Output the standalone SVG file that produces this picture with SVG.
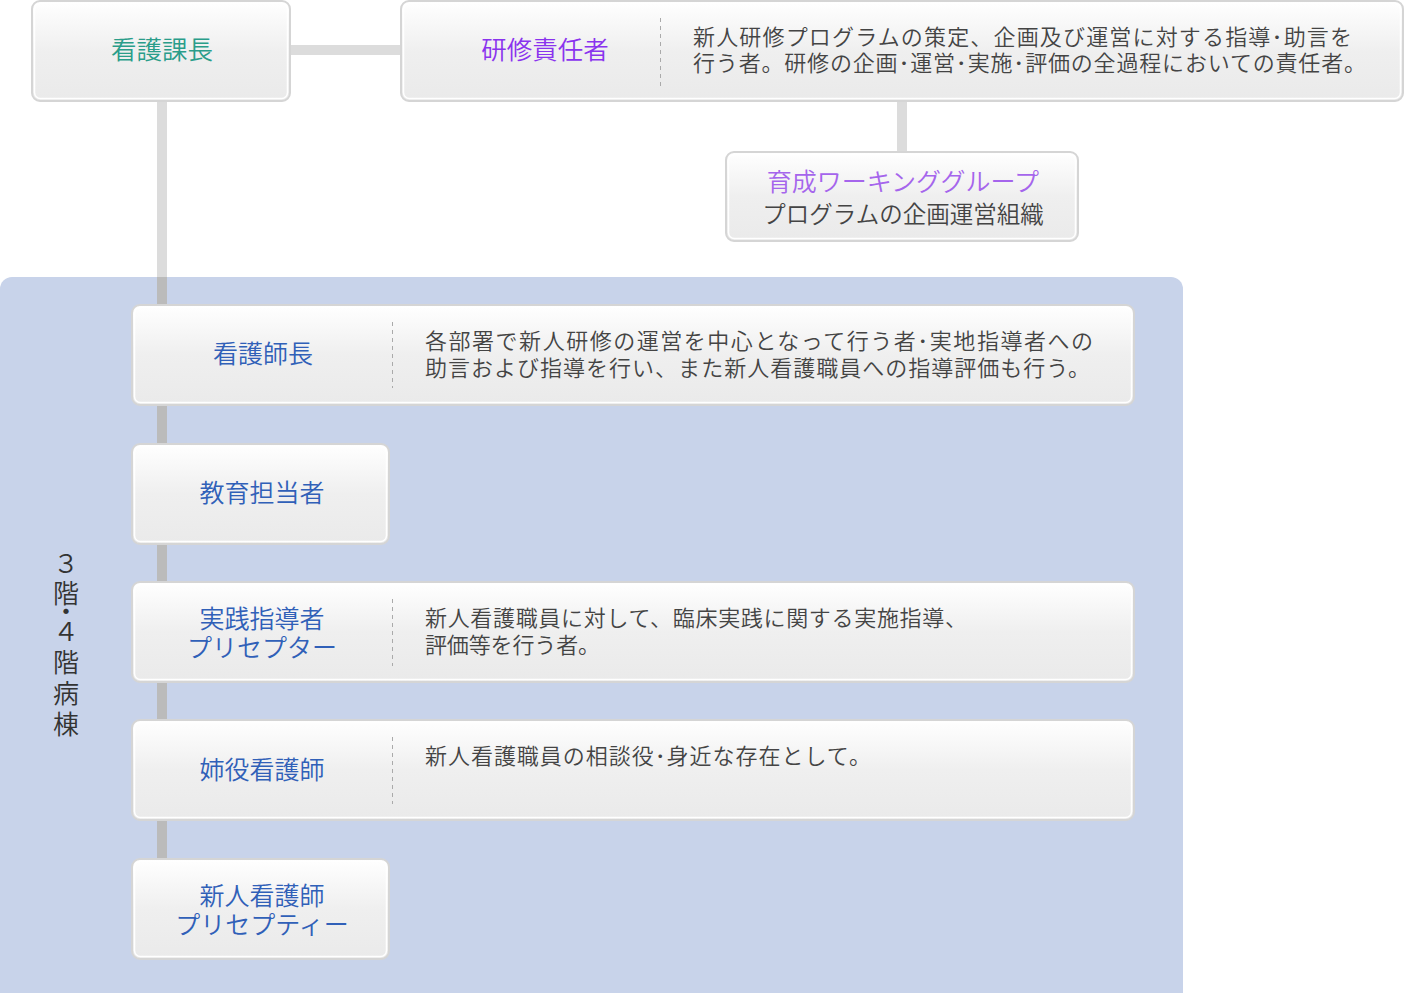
<svg xmlns="http://www.w3.org/2000/svg" width="1404" height="993" viewBox="0 0 1404 993">
<defs>
<linearGradient id="g" x1="0" y1="0" x2="0" y2="1">
<stop offset="0" stop-color="#ffffff"/>
<stop offset="0.5" stop-color="#efefef"/>
<stop offset="1" stop-color="#eaeaea"/>
</linearGradient>
</defs>
<style>
.box{fill:url(#g);stroke:#d5d5d5;stroke-width:2}
.hl{fill:none;stroke:#ffffff;stroke-width:1.5}
.sep{stroke:#aaaaaa;stroke-width:1;stroke-dasharray:4,4}
text{font-family:"Noto Sans CJK JP","Noto Sans",sans-serif;font-weight:350}
.lbl{font-size:25px;text-anchor:middle;fill:#3060b8}
.desc{font-size:22px;fill:#444444}
.side{font-size:26px;text-anchor:middle;fill:#333333}
</style>
<rect x="0" y="277" width="1183" height="730" rx="12" fill="#c8d3ea"/>
<g id="connectors">
<rect x="290" y="45" width="110" height="10" fill="#dcdcdc"/>
<rect x="157" y="102" width="10" height="175" fill="#dcdcdc"/>
<rect x="157" y="277" width="10" height="581" fill="#bbbbbb"/>
<rect x="897" y="102" width="10" height="49" fill="#dcdcdc"/>
</g>
<g id="kangokacho">
<rect class="box" x="32" y="1" width="258" height="100" rx="8"/>
<rect class="hl" x="34.5" y="3.5" width="253" height="95" rx="6"/>
<text x="162" y="59" font-size="25.5" text-anchor="middle" fill="#2a9d8a">看護課長</text>
</g>
<g id="kenshu">
<rect class="box" x="401" y="1" width="1002" height="100" rx="8"/>
<rect class="hl" x="403.5" y="3.5" width="997" height="95" rx="6"/>
<line class="sep" x1="660.5" y1="18" x2="660.5" y2="86"/>
<text x="545" y="59" font-size="25.5" text-anchor="middle" fill="#8a33ee">研修責任者</text>
<text class="desc" x="693" y="45" textLength="659" lengthAdjust="spacing">新人研修プログラムの策定、企画及び運営に対する指導･助言を</text>
<text class="desc" x="693" y="71" textLength="673" lengthAdjust="spacing">行う者。研修の企画･運営･実施･評価の全過程においての責任者。</text>
</g>
<g id="ikusei">
<rect class="box" x="726" y="152" width="352" height="89" rx="8"/>
<rect class="hl" x="728.5" y="154.5" width="347" height="84" rx="6"/>
<text x="903" y="191" font-size="25" text-anchor="middle" fill="#a565ec">育成ワーキンググループ</text>
<text x="903" y="223" font-size="23.5" text-anchor="middle" fill="#444444">プログラムの企画運営組織</text>
</g>
<g id="floor-label">
<text class="side"><tspan x="66" y="573">３</tspan><tspan x="66" y="603">階</tspan><tspan x="66" y="621">・</tspan><tspan x="66" y="641">４</tspan><tspan x="66" y="672">階</tspan><tspan x="66" y="703">病</tspan><tspan x="66" y="734">棟</tspan></text>
</g>
<g id="kangoshicho">
<rect class="box" x="132" y="305" width="1002" height="100" rx="8"/>
<rect class="hl" x="134.5" y="307.5" width="997" height="95" rx="6"/>
<line class="sep" x1="392.5" y1="322" x2="392.5" y2="388"/>
<text class="lbl" x="263" y="363">看護師長</text>
<text class="desc" x="425" y="349" textLength="668" lengthAdjust="spacing">各部署で新人研修の運営を中心となって行う者･実地指導者への</text>
<text class="desc" x="425" y="376" textLength="665" lengthAdjust="spacing">助言および指導を行い、また新人看護職員への指導評価も行う。</text>
</g>
<g id="kyoiku">
<rect class="box" x="132" y="444" width="257" height="100" rx="8"/>
<rect class="hl" x="134.5" y="446.5" width="252" height="95" rx="6"/>
<text class="lbl" x="262" y="502">教育担当者</text>
</g>
<g id="jissen">
<rect class="box" x="132" y="582" width="1002" height="100" rx="8"/>
<rect class="hl" x="134.5" y="584.5" width="997" height="95" rx="6"/>
<line class="sep" x1="392.5" y1="599" x2="392.5" y2="666"/>
<text class="lbl" x="262" y="628">実践指導者</text>
<text class="lbl" x="262" y="657">プリセプター</text>
<text class="desc" x="425" y="626" textLength="542" lengthAdjust="spacing">新人看護職員に対して、臨床実践に関する実施指導、</text>
<text class="desc" x="425" y="653" textLength="175" lengthAdjust="spacing">評価等を行う者。</text>
</g>
<g id="aneyaku">
<rect class="box" x="132" y="720" width="1002" height="100" rx="8"/>
<rect class="hl" x="134.5" y="722.5" width="997" height="95" rx="6"/>
<line class="sep" x1="392.5" y1="737" x2="392.5" y2="804"/>
<text class="lbl" x="262" y="779">姉役看護師</text>
<text class="desc" x="425" y="764" textLength="446" lengthAdjust="spacing">新人看護職員の相談役･身近な存在として。</text>
</g>
<g id="shinjin">
<rect class="box" x="132" y="859" width="257" height="100" rx="8"/>
<rect class="hl" x="134.5" y="861.5" width="252" height="95" rx="6"/>
<text class="lbl" x="262" y="905">新人看護師</text>
<text class="lbl" x="262" y="934">プリセプティー</text>
</g>
</svg>
